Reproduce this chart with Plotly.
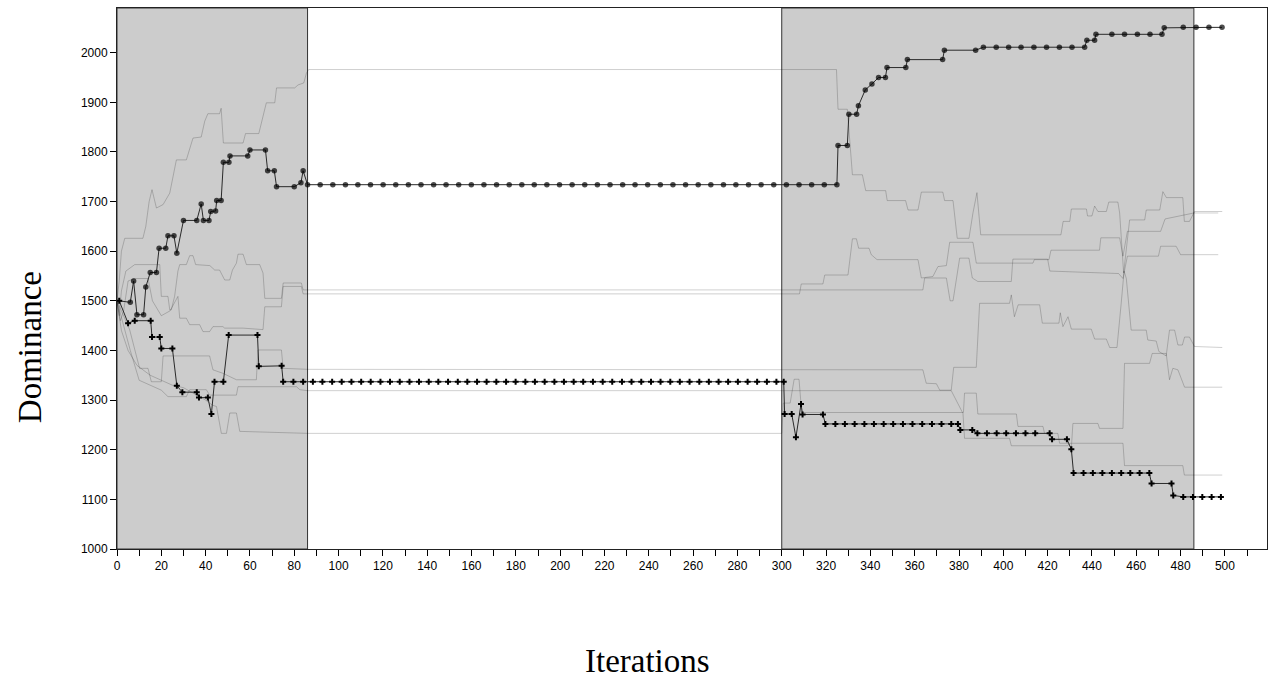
import plotly.graph_objects as go

# ---------------- data ----------------
# highlighted series 1 (circles)
circle_x = [1, 6, 7.5, 9, 12, 13, 15, 17.8, 19, 22, 23, 25.7, 27, 30, 36, 38, 39, 41.5, 42.3, 44.5, 45, 47,
            48, 50.5, 51, 59, 60, 67, 68, 71, 72, 80, 83, 84, 86,
            91.7, 97.4, 103.1, 108.7, 114.4, 120.1, 125.8, 131.5, 137.2, 142.9, 148.5, 154.2, 159.9, 165.6,
            171.3, 177.0, 182.7, 188.3, 194.0, 199.7, 205.4, 211.1, 216.8, 222.5, 228.2, 233.8, 239.5, 245.2,
            250.9, 256.6, 262.3, 268.0, 273.7, 279.3, 285.0, 290.7, 296.4, 302.1, 307.8, 313.5, 319.2, 324.9,
            325.4, 329.6, 330.3, 333.8, 334.6, 337.7, 340.7, 343.7, 346.8, 347.5, 356, 356.7, 372.6, 373.4,
            387.5, 391, 396.8, 402.4, 408, 413.8, 419.5, 425.3, 431, 436.7, 437.7, 441.2, 441.8, 449, 454.7,
            460.5, 466.2, 471.6, 472.6, 481.2, 487, 492.8, 498.7]
circle_y = [1500, 1497, 1540, 1472, 1472, 1528, 1557, 1557, 1606, 1606, 1631, 1631, 1596, 1662, 1662, 1695,
            1662, 1662, 1680, 1681, 1702, 1702, 1779, 1779, 1792, 1792, 1804, 1804, 1762, 1762, 1730, 1730,
            1738, 1762, 1734,
            1734, 1734, 1734, 1734, 1734, 1734, 1734, 1734, 1734, 1734, 1734, 1734, 1734, 1734,
            1734, 1734, 1734, 1734, 1734, 1734, 1734, 1734, 1734, 1734, 1734, 1734, 1734, 1734,
            1734, 1734, 1734, 1734, 1734, 1734, 1734, 1734, 1734, 1734, 1734, 1734, 1734, 1734,
            1813, 1813, 1876, 1876, 1893, 1925, 1937, 1950, 1950, 1970, 1970, 1986, 1986, 2005,
            2005, 2011, 2011, 2011, 2011, 2011, 2011, 2011, 2011, 2011, 2025, 2025, 2037, 2037, 2037,
            2037, 2037, 2037, 2050, 2051, 2051, 2051, 2051]

# highlighted series 2 (crosses)
cross_x = [1, 5, 8, 15.2, 15.8, 19.3, 20, 25, 27, 29.5, 36, 37, 41, 42.6, 44, 48, 50.4, 63.4, 64, 74.3, 75, 79.6,
           84.0, 88.4, 92.7, 97.1, 101.4, 105.8, 110.2, 114.5, 118.9, 123.2, 127.6, 132.0, 136.3, 140.7, 145.0,
           149.4, 153.8, 158.1, 162.5, 166.8, 171.2, 175.6, 179.9, 184.3, 188.6, 193.0, 197.4, 201.7, 206.1,
           210.4, 214.8, 219.2, 223.5, 227.9, 232.2, 236.6, 241.0, 245.3, 249.7, 254.0, 258.4, 262.8, 267.1,
           271.5, 275.8, 280.2, 284.6, 288.9, 293.3, 297.6,
           300.9, 301.3, 304.5, 306.4, 308.7, 309.4, 318.6, 319.7, 324.2, 328.5, 332.9, 337.3, 341.6, 346.0,
           350.3, 354.7, 359.0, 363.4, 367.8, 372.1, 376.5, 379.5, 380.6, 386, 388.3, 392.6, 397, 401.3,
           405.7, 410, 414.4, 420.9, 422, 428.7, 430.7, 431.7, 436.2, 440.4, 444.7, 449, 453.2, 457.3, 461.5,
           465.9, 466.9, 475.9, 476.7, 481.2, 485.6, 489.8, 494, 498.2]
cross_y = [1500, 1455, 1460, 1460, 1427, 1427, 1404, 1404, 1329, 1316, 1316, 1305, 1305, 1272, 1337, 1337, 1431,
           1431, 1368, 1369, 1337, 1337,
           1337, 1337, 1337, 1337, 1337, 1337, 1337, 1337, 1337, 1337, 1337, 1337, 1337, 1337, 1337,
           1337, 1337, 1337, 1337, 1337, 1337, 1337, 1337, 1337, 1337, 1337, 1337, 1337, 1337,
           1337, 1337, 1337, 1337, 1337, 1337, 1337, 1337, 1337, 1337, 1337, 1337, 1337, 1337,
           1337, 1337, 1337, 1337, 1337, 1337, 1337,
           1337, 1272, 1272, 1225, 1292, 1271, 1271, 1252, 1252, 1252, 1252, 1252, 1252, 1252,
           1252, 1252, 1252, 1252, 1252, 1252, 1252, 1252, 1240, 1240, 1233, 1233, 1233, 1233,
           1233, 1233, 1233, 1233, 1221, 1221, 1201, 1153, 1153, 1153, 1153, 1153, 1153, 1153, 1153,
           1153, 1132, 1132, 1108, 1105, 1105, 1105, 1105, 1105]

# background (other) series
gA_x = [0, 1, 2, 3.5, 11.7, 13, 14.5, 15.8, 17.8, 20.8, 23.8, 26.8, 31.3, 34.3, 38, 39.6, 41, 46.3, 47, 48, 56.9,
        58, 64, 65, 67.4, 71.2, 72, 80.2, 81.7, 84.3, 85.5, 86.5, 324.7, 325.4, 329.6, 331.9, 336.4, 337.9,
        346.9, 347.6, 355.9, 357, 361.5, 363, 372.7, 373.5, 377.3, 379.2, 384.5, 386.3, 388.1, 389.8, 426,
        427, 430, 430.7, 437.5, 438, 440, 441.2, 442.7, 446.5, 447.6, 451.7, 452.5, 454.3, 457, 463.8, 464.5,
        470.6, 472, 473.6, 481, 481.7, 484, 486.3, 498.8]
gA_y = [1500, 1540, 1600, 1626, 1626, 1650, 1700, 1724, 1687, 1694, 1717, 1784, 1784, 1828, 1830, 1862, 1877,
        1877, 1888, 1818, 1818, 1837, 1837, 1855, 1899, 1899, 1929, 1929, 1935, 1939, 1959, 1966, 1966, 1886,
        1886, 1754, 1754, 1722, 1722, 1702, 1702, 1683, 1683, 1719, 1719, 1702, 1702, 1626, 1626, 1677, 1718,
        1633, 1633, 1660, 1660, 1685, 1685, 1671, 1671, 1691, 1680, 1680, 1699, 1699, 1677, 1556, 1663, 1663,
        1683, 1683, 1720, 1708, 1708, 1660, 1660, 1680, 1680]

gB_x = [0, 1, 2, 4, 8, 19.3, 20, 23, 23.8, 24.5, 26, 27.5, 28.3, 31.3, 32.8, 34.3, 35.5, 41.9, 44.1, 46.3, 48.6,
        50.9, 52.1, 53.9, 54.6, 56.9, 58.4, 64.4, 65.9, 66.7, 74.2, 75, 83.2, 84, 363.7, 364.5, 374.3, 376,
        377.3, 380.3, 384.5, 386, 388.5, 403.6, 404.3, 420, 421, 452, 454, 456, 470, 471, 478, 480, 497]
gB_y = [1500, 1470, 1520, 1560, 1573, 1573, 1509, 1509, 1482, 1482, 1509, 1560, 1573, 1573, 1591, 1591, 1573,
        1571, 1562, 1562, 1542, 1542, 1562, 1576, 1594, 1594, 1573, 1573, 1556, 1505, 1505, 1536, 1536, 1522,
        1522, 1546, 1546, 1500, 1500, 1586, 1586, 1546, 1539, 1539, 1584, 1584, 1560, 1555, 1545, 1590, 1590,
        1610, 1610, 1593, 1593]

gC_x = [0, 1.5, 3, 5, 8, 14, 16, 20, 24, 27.5, 28.3, 31.3, 32.8, 37.3, 38.8, 41.8, 43.3, 47.8, 48.6, 56.9, 65.9,
        66.7, 74.2, 75, 83.2, 84, 308, 308.8, 318.6, 319.4, 329.9, 331.9, 333.7, 334.7, 339.4, 340.4, 343,
        361.5, 363, 368.2, 370.5, 374.3, 375.8, 386.3, 387.8, 413.4, 414, 420.6, 421.5, 443.4, 444, 452.5,
        454, 456, 471, 473, 486, 497]
gC_y = [1500, 1460, 1480, 1540, 1545, 1545, 1500, 1470, 1480, 1509, 1465, 1465, 1452, 1452, 1438, 1438, 1448,
        1448, 1445, 1445, 1442, 1488, 1488, 1529, 1529, 1514, 1514, 1534, 1534, 1552, 1552, 1625, 1625, 1606,
        1606, 1593, 1583, 1583, 1546, 1549, 1569, 1571, 1618, 1618, 1576, 1576, 1583, 1583, 1602, 1602, 1627,
        1627, 1590, 1640, 1640, 1665, 1677, 1677]

gD_x = [0, 3, 5.7, 10.2, 14, 15.5, 20, 20.8, 41.8, 43.3, 47.8, 53.9, 62.9, 63.6, 74.2, 75, 86, 363.7, 365.2,
        369.8, 371.3, 376.5, 377.6, 387.8, 389.3, 402.8, 403.6, 405, 406.7, 416.4, 417.6, 425.1, 425.7, 426.9,
        429.2, 430.7, 439.7, 441.2, 446.5, 448, 451.3, 453.2, 454.5, 455.5, 457.7, 464.5, 465.2, 469, 470.2,
        473.5, 475, 477.3, 478.8, 480.8, 481.8, 484, 486.3, 498.8]
gD_y = [1500, 1470, 1442, 1364, 1364, 1337, 1337, 1389, 1389, 1361, 1354, 1341, 1341, 1401, 1401, 1364, 1362,
        1361, 1334, 1333, 1320, 1320, 1366, 1366, 1495, 1495, 1512, 1468, 1492, 1492, 1455, 1455, 1476, 1448,
        1468, 1443, 1443, 1423, 1423, 1406, 1406, 1495, 1560, 1545, 1441, 1441, 1421, 1419, 1398, 1389, 1441,
        1441, 1411, 1411, 1427, 1427, 1408, 1406]

gE_x = [0, 3, 6, 10, 15, 20, 23, 31.3, 32.8, 40.3, 41.8, 53.9, 54.6, 81, 82.5, 86, 376.5, 381.8, 382.5, 402.8,
        403.6, 429.2, 430, 454, 454.7, 481, 481.7, 498.8]
gE_y = [1500, 1450, 1400, 1340, 1330, 1320, 1307, 1307, 1321, 1321, 1310, 1310, 1327, 1327, 1321, 1319, 1319,
        1273, 1223, 1223, 1208, 1208, 1213, 1213, 1168, 1168, 1149, 1149]

gF_x = [0, 2, 5, 9, 15, 20, 25, 30, 36, 40, 43, 44.9, 47.1, 49.4, 50.9, 53.9, 55.4, 86, 300, 300.7, 303.8, 305.6,
        307.8, 309, 382, 382.5, 387.8, 388.5, 405.9, 406.6, 417.9, 418.6, 424.6, 425.4, 429.2, 430.7, 431.4,
        442.7, 443.4, 454, 454.7, 466, 467.2, 473.5, 475, 476.5, 478.8, 481.8, 498.8]
gF_y = [1500, 1440, 1400, 1370, 1350, 1340, 1330, 1325, 1310, 1300, 1290, 1287, 1233, 1233, 1274, 1274, 1237,
        1233, 1233, 1294, 1294, 1342, 1342, 1275, 1275, 1314, 1314, 1272, 1272, 1247, 1247, 1233, 1233, 1213,
        1213, 1203, 1253, 1253, 1243, 1243, 1374, 1374, 1394, 1394, 1341, 1364, 1361, 1326, 1326]

shaded_phases = [(0, 86), (300, 486)]
x_range = [0, 519]
y_range = [1000, 2090]

# ---------------- figure ----------------
fig = go.Figure()
gray = "rgba(0,0,0,0.19)"
for xs, ys in [(gA_x, gA_y), (gB_x, gB_y), (gC_x, gC_y), (gD_x, gD_y), (gE_x, gE_y), (gF_x, gF_y)]:
    fig.add_trace(go.Scatter(x=xs, y=ys, mode="lines", line=dict(color=gray, width=1),
                             hoverinfo="skip", showlegend=False))

fig.add_trace(go.Scatter(x=circle_x, y=circle_y, mode="lines+markers",
                         line=dict(color="#2a2a2a", width=1),
                         marker=dict(symbol="circle", size=[0] + [5.5] * (len(circle_x) - 1), color="black",
                                     line=dict(width=0)),
                         showlegend=False))
fig.add_trace(go.Scatter(x=cross_x, y=cross_y, mode="lines+markers",
                         line=dict(color="#2a2a2a", width=1),
                         marker=dict(symbol="cross", size=5, color="black", line=dict(width=0)),
                         showlegend=False))

for x0, x1 in shaded_phases:
    fig.add_shape(type="rect", xref="x", yref="y", x0=x0, x1=x1, y0=y_range[0], y1=y_range[1],
                  fillcolor="#cccccc", line=dict(color="#333333", width=1), layer="below")

tickfont = dict(family="Liberation Sans, Arial, sans-serif", size=12, color="black")
fig.update_layout(
    width=1275, height=681,
    margin=dict(l=117, r=8, t=8, b=132),
    paper_bgcolor="white", plot_bgcolor="white",
    xaxis=dict(range=x_range, tickmode="linear", tick0=0, dtick=20, ticks="outside", ticklen=6,
               tickcolor="black", showline=True, linecolor="#222222", linewidth=1, mirror=True,
               showgrid=False, zeroline=False, tickfont=tickfont,
               minor=dict(dtick=10, tick0=0, ticks="outside", ticklen=6, tickcolor="black", showgrid=False)),
    yaxis=dict(range=y_range, tickmode="linear", tick0=1000, dtick=100, ticks="outside", ticklen=6,
               tickcolor="black", showline=True, linecolor="#222222", linewidth=1, mirror=True,
               showgrid=False, zeroline=False, tickfont=tickfont),
    annotations=[
        dict(text="Dominance", xref="paper", yref="paper", x=-0.0757, y=0.373, textangle=-90,
             showarrow=False, xanchor="center", yanchor="middle",
             font=dict(family="Liberation Serif, Times New Roman, serif", size=33, color="black")),
        dict(text="Iterations", xref="paper", yref="paper", x=0.461, y=-0.207,
             showarrow=False, xanchor="center", yanchor="middle",
             font=dict(family="Liberation Serif, Times New Roman, serif", size=33, color="black")),
    ],
)

fig.write_html("out.html")
